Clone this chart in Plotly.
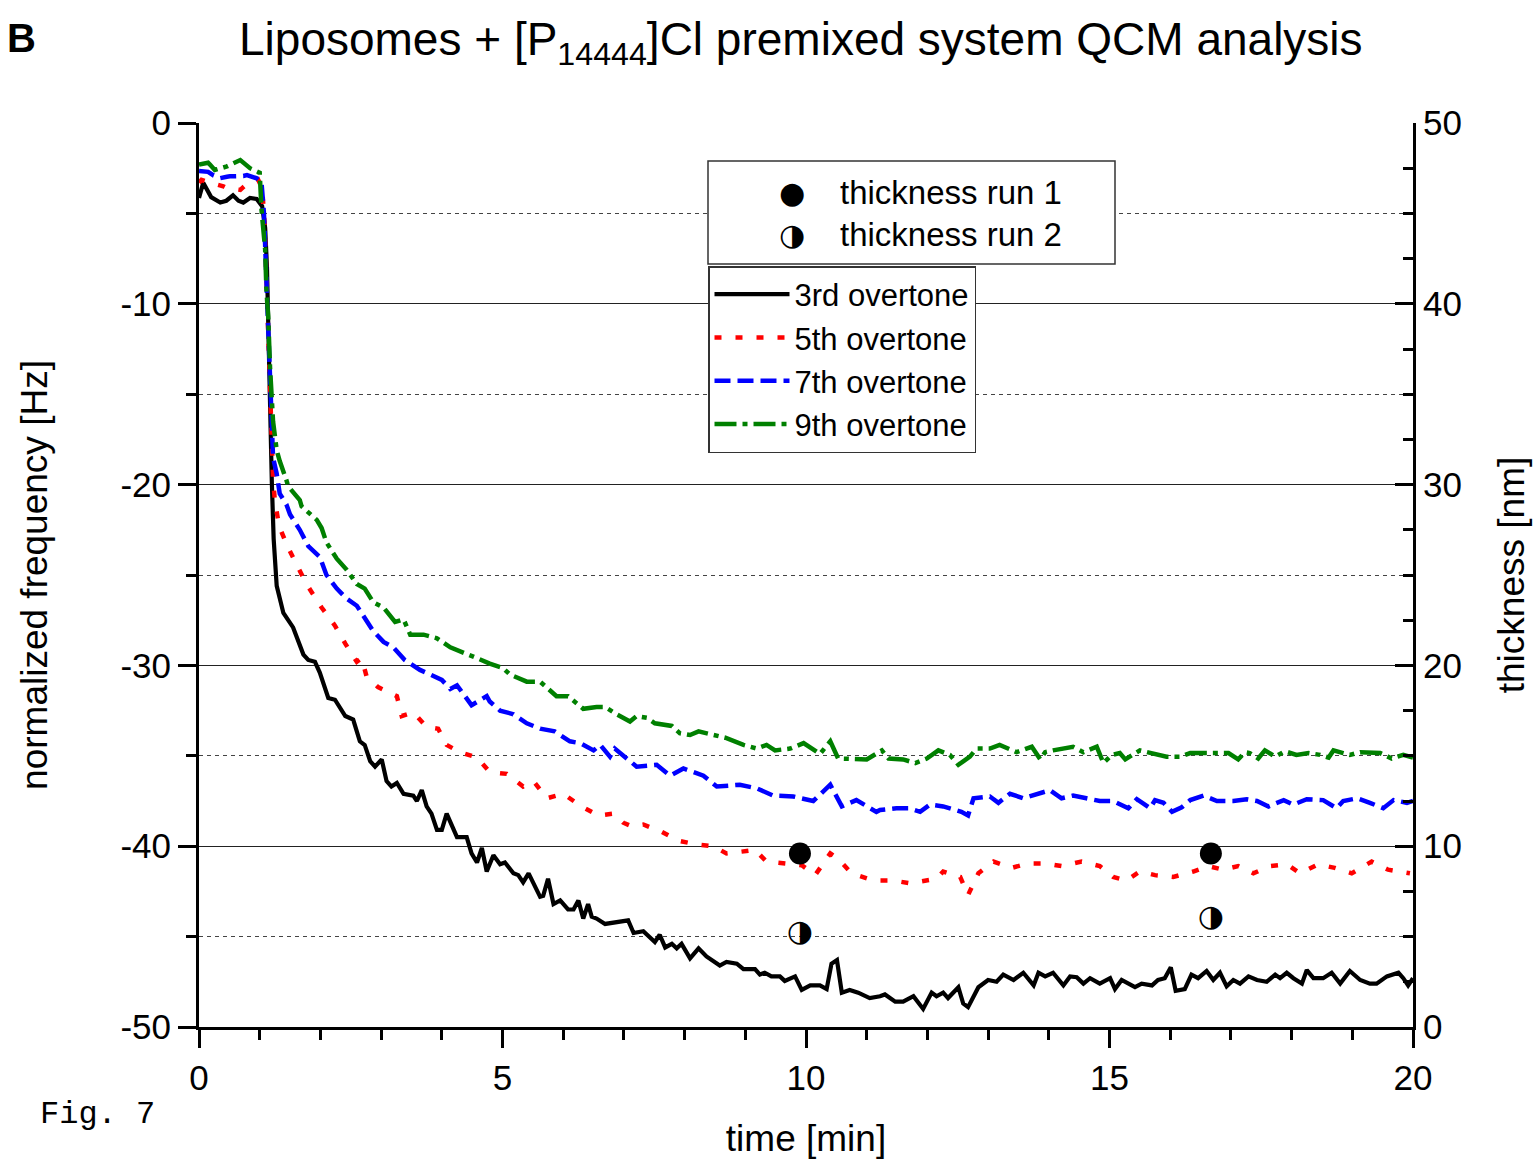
import plotly.graph_objects as go

# ---------------- data ----------------
t3 = [0.00,0.07,0.20,0.35,0.45,0.56,0.65,0.73,0.84,0.95,1.04,1.09,1.12,1.14,1.17,1.20,1.23,1.28,1.39,1.50,
      1.55,1.72,1.80,1.91,1.99,2.13,2.24,2.41,2.54,2.65,2.73,2.82,2.90,3.01,3.09,3.17,3.26,3.37,3.53,3.59,
      3.67,3.75,3.83,3.92,4.00,4.08,4.25,4.41,4.49,4.58,4.66,4.74,4.85,4.96,5.04,5.18,5.26,5.34,5.43,5.62,
      5.67,5.75,5.84,5.95,6.08,6.17,6.25,6.33,6.41,6.47,6.55,6.69,6.88,7.07,7.16,7.32,7.51,7.59,7.68,7.79,
      7.87,7.95,8.09,8.23,8.36,8.58,8.69,8.86,8.97,9.16,9.24,9.32,9.43,9.57,9.65,9.82,9.93,10.07,10.23,10.34,
      10.42,10.51,10.59,10.72,10.86,11.05,11.22,11.30,11.47,11.60,11.77,11.93,12.07,12.15,12.26,12.34,12.51,12.59,12.67,12.84,
      13.00,13.14,13.25,13.42,13.58,13.75,13.83,13.94,14.07,14.24,14.35,14.46,14.57,14.68,14.84,15.01,15.09,15.20,15.42,15.53,
      15.70,15.80,15.91,16.01,16.09,16.24,16.35,16.46,16.60,16.71,16.82,16.93,17.04,17.15,17.29,17.43,17.59,17.73,17.81,17.92,
      18.03,18.17,18.25,18.36,18.52,18.66,18.80,18.96,19.13,19.29,19.40,19.57,19.76,19.84,19.92,20.00]
f3 = [-4.15,-3.3,-4.1,-4.4,-4.3,-4.0,-4.3,-4.4,-4.15,-4.2,-4.6,-5.8,-8.0,-11.6,-15.5,-19.9,-23.0,-25.6,-27.1,-27.7,
      -27.9,-29.4,-29.7,-29.8,-30.4,-31.8,-31.9,-32.8,-33.0,-34.2,-34.4,-35.3,-35.6,-35.2,-36.4,-36.7,-36.5,-37.1,-37.2,-37.5,
      -36.9,-37.8,-38.2,-39.1,-39.1,-38.2,-39.5,-39.5,-40.4,-40.9,-40.1,-41.4,-40.5,-41.0,-40.9,-41.5,-41.6,-42.0,-41.5,-42.8,
      -42.75,-41.8,-43.2,-43.0,-43.5,-43.5,-43.0,-44.0,-43.2,-43.9,-44.0,-44.3,-44.2,-44.1,-44.8,-44.7,-45.3,-44.9,-45.6,-45.4,
      -45.65,-45.4,-46.2,-45.65,-46.1,-46.6,-46.4,-46.5,-46.8,-46.8,-47.1,-47.0,-47.2,-47.2,-47.45,-47.2,-47.95,-47.7,-47.7,-47.9,
      -46.5,-46.3,-48.1,-47.95,-48.1,-48.4,-48.3,-48.2,-48.6,-48.6,-48.3,-49.0,-48.1,-48.3,-48.1,-48.4,-47.8,-48.7,-48.9,-47.8,
      -47.4,-47.5,-47.1,-47.4,-47.0,-47.7,-47.0,-47.2,-47.0,-47.7,-47.2,-47.25,-47.6,-47.3,-47.6,-47.3,-47.9,-47.4,-47.8,-47.6,
      -47.7,-47.4,-47.3,-46.7,-48.0,-47.9,-47.1,-47.3,-46.9,-47.4,-47.0,-47.75,-47.4,-47.6,-47.2,-47.4,-47.5,-47.1,-47.3,-47.0,
      -47.3,-47.6,-46.85,-47.3,-47.3,-47.0,-47.6,-46.9,-47.4,-47.6,-47.6,-47.2,-47.0,-47.3,-47.7,-47.3]

t5 = [0.00,0.04,0.13,0.25,0.40,0.46,0.58,0.68,0.73,0.85,0.97,1.04,1.08,1.11,1.14,1.17,1.20,1.22,1.25,1.32,
      1.47,1.61,1.77,2.02,2.24,2.41,2.60,2.68,2.76,2.95,3.26,3.34,3.53,3.75,3.94,4.08,4.30,4.58,4.79,5.07,
      5.34,5.51,5.73,6.00,6.30,6.58,6.83,6.99,7.13,7.32,7.62,7.90,8.20,8.47,8.69,8.94,9.16,9.35,9.68,9.93,
      10.15,10.40,10.53,10.75,11.11,11.44,11.71,11.93,12.15,12.26,12.54,12.67,12.84,13.09,13.39,13.66,13.94,14.21,14.54,14.84,
      15.06,15.28,15.50,15.75,16.05,16.38,16.63,16.87,17.12,17.37,17.64,17.92,18.14,18.44,18.71,18.99,19.32,19.59,19.95]
f5 = [-3.3,-3.15,-3.25,-3.35,-3.5,-3.6,-3.65,-3.7,-3.55,-3.2,-3.1,-3.6,-5.5,-8.5,-12.0,-15.5,-18.5,-19.7,-20.9,-22.3,
      -23.5,-24.5,-25.5,-26.8,-27.8,-28.8,-29.8,-29.6,-30.6,-31.2,-31.7,-32.8,-32.6,-33.4,-33.5,-34.4,-34.8,-35.1,-35.9,-36.0,
      -36.7,-36.4,-37.35,-37.1,-37.8,-38.3,-38.2,-38.7,-38.9,-38.8,-39.2,-39.7,-39.9,-40.0,-40.4,-40.3,-40.2,-40.85,-40.95,-41.05,
      -41.6,-40.4,-40.7,-41.5,-41.9,-41.9,-42.05,-41.95,-41.8,-41.4,-41.7,-42.7,-41.5,-40.85,-41.2,-40.95,-40.95,-41.1,-40.85,-41.1,
      -41.7,-41.9,-41.4,-41.6,-41.7,-41.4,-41.1,-41.3,-41.1,-41.5,-41.1,-41.0,-41.5,-41.0,-41.2,-41.5,-40.85,-41.3,-41.5]

t7 = [0.00,0.15,0.24,0.35,0.46,0.51,0.73,0.79,0.95,1.03,1.07,1.11,1.14,1.17,1.20,1.22,1.28,1.33,1.44,1.50,
      1.66,1.80,1.99,2.10,2.27,2.43,2.60,2.76,2.87,3.04,3.20,3.39,3.64,4.00,4.14,4.25,4.49,4.74,4.79,4.96,
      5.18,5.40,5.62,5.86,6.11,6.28,6.50,6.61,6.77,6.85,7.05,7.21,7.54,7.76,7.98,8.31,8.53,8.91,9.19,9.46,
      9.79,10.12,10.40,10.59,10.83,11.16,11.22,11.49,11.69,11.88,12.04,12.26,12.56,12.67,12.76,13.03,13.17,13.36,13.58,13.86,
      14.02,14.21,14.40,14.62,14.84,15.06,15.31,15.45,15.67,15.75,15.89,16.03,16.19,16.33,16.44,16.55,16.77,17.04,17.26,17.43,
      17.62,17.87,18.03,18.25,18.52,18.74,18.85,19.08,19.29,19.51,19.68,19.90,20.00]
f7 = [-2.65,-2.7,-2.9,-3.05,-2.97,-2.95,-2.93,-2.88,-3.06,-3.3,-5.0,-8.5,-11.5,-14.5,-17.1,-18.5,-19.4,-20.5,-21.1,-21.65,
      -22.5,-23.4,-24.0,-25.0,-25.75,-26.3,-26.7,-27.6,-28.1,-28.7,-29.0,-29.7,-30.25,-30.8,-31.3,-31.1,-32.2,-31.7,-32.0,-32.5,
      -32.7,-33.2,-33.5,-33.65,-34.2,-34.3,-34.7,-34.4,-35.05,-34.6,-35.2,-35.6,-35.5,-36.1,-35.7,-36.1,-36.7,-36.6,-36.8,-37.2,
      -37.25,-37.5,-36.6,-37.8,-37.45,-38.1,-38.0,-37.9,-37.9,-38.1,-37.7,-37.8,-38.1,-38.3,-37.35,-37.25,-37.6,-37.1,-37.35,-37.1,
      -36.9,-37.35,-37.2,-37.35,-37.5,-37.5,-37.9,-37.4,-37.9,-37.45,-37.6,-38.1,-37.85,-37.45,-37.35,-37.2,-37.5,-37.5,-37.4,-37.5,
      -37.8,-37.45,-37.7,-37.4,-37.45,-37.9,-37.5,-37.35,-37.6,-37.9,-37.45,-37.6,-37.5]

t9 = [0.00,0.15,0.18,0.26,0.46,0.65,0.68,0.84,1.00,1.03,1.09,1.11,1.14,1.17,1.22,1.28,1.33,1.44,1.47,1.66,
      1.69,1.94,2.02,2.10,2.27,2.43,2.60,2.73,2.87,3.04,3.23,3.37,3.48,3.70,3.92,4.14,4.30,4.58,4.79,5.01,
      5.12,5.40,5.62,5.89,6.08,6.33,6.55,6.69,6.88,7.10,7.21,7.38,7.51,7.79,7.92,8.09,8.23,8.53,8.67,8.97,
      9.19,9.35,9.49,9.74,9.96,10.23,10.40,10.53,10.83,11.00,11.25,11.36,11.60,11.80,11.99,12.18,12.37,12.51,12.70,12.81,
      13.03,13.19,13.47,13.72,13.86,13.94,14.07,14.40,14.57,14.79,14.90,15.04,15.17,15.26,15.50,15.72,15.94,16.16,16.33,16.66,
      16.96,17.12,17.23,17.31,17.45,17.56,17.73,17.89,18.08,18.28,18.47,18.61,18.69,18.85,18.96,19.13,19.29,19.46,19.65,19.84,20.00]
f9 = [-2.3,-2.2,-2.3,-2.6,-2.4,-2.1,-2.05,-2.5,-2.75,-4.8,-7.0,-9.2,-10.7,-13.5,-16.5,-18.1,-18.7,-19.75,-20.1,-20.85,
      -21.2,-21.95,-22.4,-23.2,-24.1,-24.7,-25.5,-25.75,-26.5,-26.8,-27.6,-27.45,-28.3,-28.3,-28.5,-29.0,-29.2,-29.6,-29.9,-30.15,
      -30.5,-30.9,-30.9,-31.7,-31.7,-32.4,-32.3,-32.3,-32.7,-33.1,-32.8,-32.9,-33.2,-33.35,-33.75,-33.85,-33.65,-33.85,-34.0,-34.4,
      -34.6,-34.4,-34.7,-34.6,-34.3,-34.9,-34.2,-35.15,-35.15,-35.2,-34.7,-35.15,-35.2,-35.4,-35.15,-34.7,-34.95,-35.5,-35.05,-34.6,
      -34.6,-34.4,-34.8,-34.5,-35.2,-34.8,-34.7,-34.5,-34.8,-34.5,-35.4,-34.95,-34.85,-35.2,-34.7,-34.85,-35.05,-35.05,-34.85,-34.85,
      -34.85,-35.2,-34.8,-34.85,-35.15,-34.7,-35.05,-34.75,-34.95,-34.85,-34.95,-35.1,-34.7,-34.85,-34.95,-34.8,-34.85,-34.85,-35.15,-34.95,-35.1]

thick_t = [9.9, 16.67]
thick_run1 = [9.6, 9.6]
thick_run2 = [5.15, 6.0]

left_ticks = [0, -10, -20, -30, -40, -50]
left_ticktext = ["0", "-10", "-20", "-30", "-40", "-50"]

# ---------------- layout helpers (pixel -> paper) ----------------
PL, PR, PT, PB = 199, 1413, 123, 1027
def px(x):
    return (x - PL) / (PR - PL)
def py(y):
    return (PB - y) / (PB - PT)

FONT = "Liberation Sans, Arial, Helvetica, sans-serif"

fig = go.Figure()
fig.add_trace(go.Scatter(x=t3, y=f3, mode="lines", name="3rd overtone",
                         line=dict(color="black", width=4.2)))
fig.add_trace(go.Scatter(x=t5, y=f5, mode="lines", name="5th overtone",
                         line=dict(color="#ff0000", width=4.5, dash="7px,14px")))
fig.add_trace(go.Scatter(x=t7, y=f7, mode="lines", name="7th overtone",
                         line=dict(color="#0000ff", width=4.5, dash="16px,7px")))
fig.add_trace(go.Scatter(x=t9, y=f9, mode="lines", name="9th overtone",
                         line=dict(color="#008000", width=4.5, dash="22px,6px,5px,6px")))

# thickness points (right axis)
fig.add_trace(go.Scatter(x=thick_t, y=thick_run1, yaxis="y2", mode="markers",
                         name="thickness run 1", showlegend=False,
                         marker=dict(symbol="circle", size=22, color="black")))
fig.add_trace(go.Scatter(x=thick_t, y=thick_run2, yaxis="y2", mode="text",
                         name="thickness run 2", showlegend=False,
                         text=["◑"] * len(thick_t), textposition="middle center",
                         textfont=dict(family="DejaVu Sans", size=30, color="black")))

fig.update_layout(
    width=1537, height=1162,
    margin=dict(l=PL, r=1537 - PR, t=PT, b=1162 - PB, autoexpand=False),
    paper_bgcolor="white", plot_bgcolor="white",
    font=dict(family=FONT, color="black", size=34),
    showlegend=True,
    legend=dict(x=px(708), y=py(266), xanchor="left", yanchor="top",
                bgcolor="white", bordercolor="#333", borderwidth=1.5,
                font=dict(size=31, family=FONT), itemwidth=75,
                tracegroupgap=0, traceorder="normal"),
    xaxis=dict(range=[0, 20], tick0=0, dtick=5, ticks="outside", ticklen=18, tickwidth=3,
               tickcolor="black", showline=True, linewidth=3, linecolor="black",
               showgrid=False, zeroline=False, automargin=False,
               tickfont=dict(size=35),
               minor=dict(dtick=1, ticks="outside", ticklen=10, tickwidth=2.5, tickcolor="black",
                          showgrid=False),
               title=dict(text="time [min]", font=dict(size=37), standoff=30)),
    yaxis=dict(range=[-50, 0], tickmode="array", tickvals=left_ticks, ticktext=left_ticktext,
               ticks="outside", ticklen=18, tickwidth=3, tickcolor="black",
               showline=True, linewidth=3, linecolor="black", zeroline=False, automargin=False,
               showgrid=True, gridcolor="#222", gridwidth=1.3,
               tickfont=dict(size=35),
               minor=dict(tickmode="linear", tick0=0, dtick=5, ticks="outside", ticklen=10,
                          tickwidth=2.5, tickcolor="black",
                          showgrid=True, gridcolor="#444", gridwidth=1, griddash="4px,4px"),
               title=dict(text="normalized frequency [Hz]", font=dict(size=37), standoff=62)),
    yaxis2=dict(range=[0, 50], overlaying="y", side="right", tick0=0, dtick=10,
                ticks="inside", ticklen=18, tickwidth=3, tickcolor="black",
                showline=True, linewidth=3, linecolor="black", showgrid=False, zeroline=False,
                automargin=False,
                tickfont=dict(size=35),
                minor=dict(dtick=2.5, ticks="inside", ticklen=10, tickwidth=2.5, tickcolor="black",
                           showgrid=False),
                title=dict(text="thickness [nm]", font=dict(size=37), standoff=38)),
)

# thickness legend box (drawn as shape + text)
fig.add_shape(type="rect", xref="paper", yref="paper",
              x0=px(708), x1=px(1115), y0=py(264), y1=py(161),
              fillcolor="white", line=dict(color="#333", width=1.5), layer="above")
fig.add_annotation(xref="paper", yref="paper", x=px(792), y=py(192), text="●",
                   showarrow=False, font=dict(family="DejaVu Sans", size=30, color="black"),
                   xanchor="center", yanchor="middle")
fig.add_annotation(xref="paper", yref="paper", x=px(792), y=py(234), text="◑",
                   showarrow=False, font=dict(family="DejaVu Sans", size=30, color="black"),
                   xanchor="center", yanchor="middle")
fig.add_annotation(xref="paper", yref="paper", x=px(838), y=py(192), text="thickness run 1",
                   showarrow=False, font=dict(size=33), xanchor="left", yanchor="middle")
fig.add_annotation(xref="paper", yref="paper", x=px(838), y=py(234), text="thickness run 2",
                   showarrow=False, font=dict(size=33), xanchor="left", yanchor="middle")

# title, panel letter, figure note
fig.add_annotation(xref="paper", yref="paper", x=px(801), y=py(42),
                   text="Liposomes + [P<sub>14444</sub>]Cl premixed system QCM analysis",
                   showarrow=False, font=dict(size=46), xanchor="center", yanchor="middle")
fig.add_annotation(xref="paper", yref="paper", x=px(5), y=py(38), text="<b>B</b>",
                   showarrow=False, font=dict(size=40), xanchor="left", yanchor="middle")
fig.add_annotation(xref="paper", yref="paper", x=px(38), y=py(1114), text="Fig. 7",
                   showarrow=False, font=dict(family="Liberation Mono, Courier New, monospace", size=32),
                   xanchor="left", yanchor="middle")

fig.write_html("out.html")
